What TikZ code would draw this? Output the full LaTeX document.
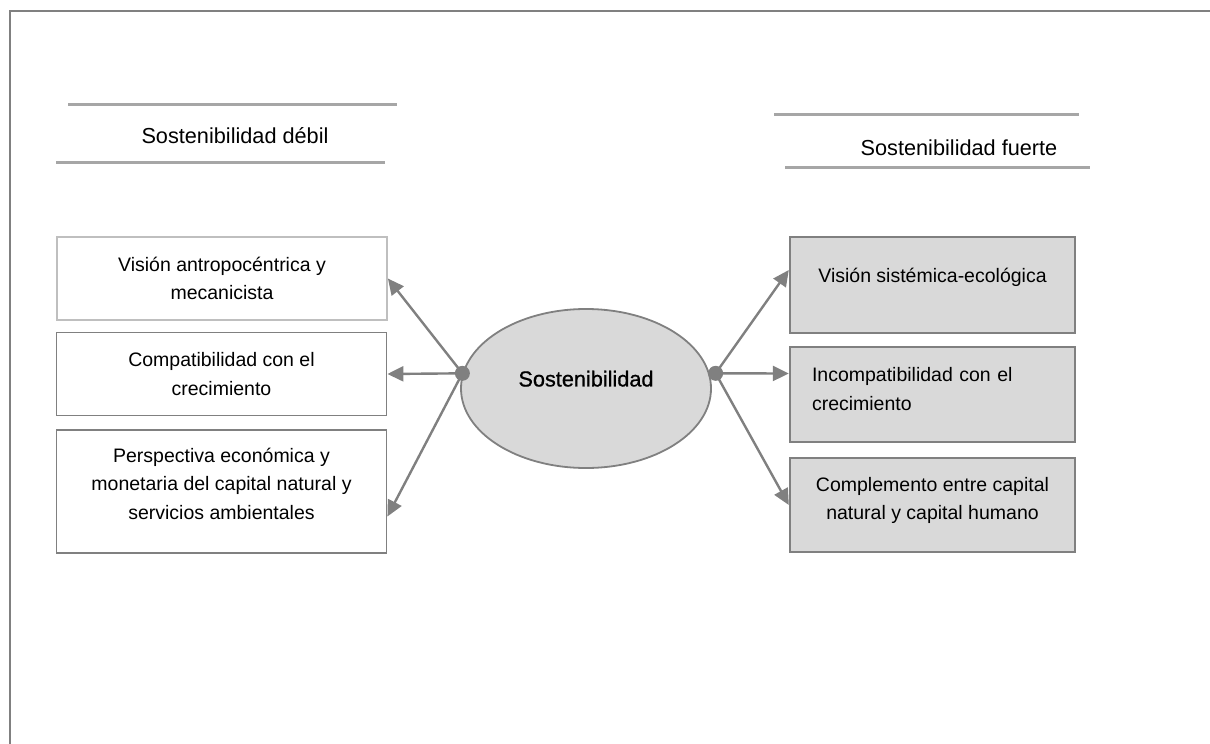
\documentclass[tikz,border=0pt]{standalone}
\usepackage{fontspec}
\setmainfont{Liberation Sans}
\newfontfamily\hubfont[FakeBold=0.8]{Liberation Sans}
\usetikzlibrary{shapes.geometric}
\usetikzlibrary{arrows.meta}

\definecolor{linegray}{RGB}{128,128,128}
\definecolor{rulegray}{RGB}{166,166,166}
\definecolor{palegray}{RGB}{191,191,191}
\definecolor{boxgray}{RGB}{217,217,217}

\tikzset{
  weakbox/.style={draw=linegray, line width=1.8pt, fill=white, minimum width=330pt, inner sep=0pt, align=center, font=\fontsize{19.5}{28.5}\selectfont},
  strongbox/.style={draw=linegray, line width=2.4pt, fill=boxgray, minimum width=285pt, inner sep=0pt, align=center, font=\fontsize{19.5}{28.5}\selectfont},
  headtext/.style={anchor=base, inner sep=0pt, font=\fontsize{21.7}{26}\selectfont},
  headrule/.style={rulegray, line width=3pt},
  link/.style={linegray, line width=2.4pt, -{Triangle[length=16pt,width=15pt]}}
}

\begin{document}
\begin{tikzpicture}[x=1pt,y=-1pt]
    \useasboundingbox (0,0) rectangle (1210,744);
    %frame
    \draw[linegray, line width=2.5pt] (10,744) -- (10,11) -- (1210,11);

    %titles
    \node[headtext] (weak) at (235,143) {Sostenibilidad débil};
    \node[headtext] (strong) at (959,155) {Sostenibilidad fuerte};
    \draw[headrule] (68,104) -- (397,104);
    \draw[headrule] (56,162) -- (385,162);
    \draw[headrule] (774,114) -- (1079,114);
    \draw[headrule] (785,167) -- (1090,167);

    %weak side
    \node[weakbox, draw=palegray, minimum height=83pt] (w1) at (222,278.5) {Visión antropocéntrica y\\mecanicista};
    \node[weakbox, minimum height=83pt] (w2) at (221.5,374) {Compatibilidad con el\\crecimiento};
    \node[weakbox, minimum height=123pt, text depth=16pt] (w3) at (221.5,491.5) {Perspectiva económica y\\monetaria del capital natural y\\servicios ambientales};

    %strong side
    \node[strongbox, minimum height=96pt, text depth=20pt] (s1) at (932.5,285) {Visión sistémica-ecológica};
    \node[strongbox, minimum height=95pt, text width=241pt, align=left, text depth=40pt] (s2) at (932.5,394.5) {Incompatibilidad con el\\crecimiento};
    \node[strongbox, minimum height=94pt, text depth=13pt] (s3) at (932.5,505) {Complemento entre capital\\natural y capital humano};

    %center
    \node[ellipse, draw=linegray, line width=1.8pt, fill=boxgray, minimum width=250pt, minimum height=159pt, inner sep=0pt, text depth=19.8pt, font=\fontsize{21.7}{26}\hubfont] (sus) at (586,388.5) {Sostenibilidad};
    \coordinate (ldot) at (sus.173);
    \coordinate (rdot) at ([xshift=6pt]sus.7);

    \draw[link] (ldot) -- (w1.east);
    \draw[link] (ldot) -- (w2.east);
    \draw[link] (ldot) -- ([yshift=-25pt]w3.east);
    \draw[link] (rdot) -- ([yshift=15pt]s1.west);
    \draw[link] (rdot) -- ([yshift=21pt]s2.west);
    \draw[link] (rdot) -- (s3.west);
    \fill[linegray] (ldot) circle (7.5pt);
    \fill[linegray] (rdot) circle (7.5pt);
\end{tikzpicture}
\end{document}
